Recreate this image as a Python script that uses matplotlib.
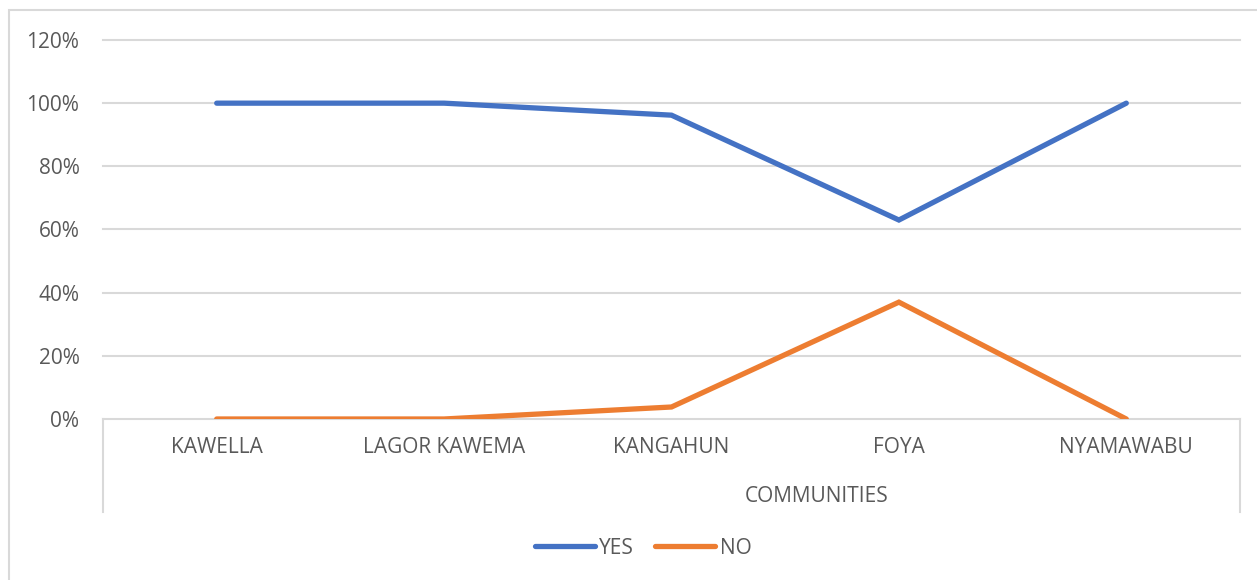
import matplotlib.pyplot as plt
from matplotlib.patches import Rectangle
from matplotlib.ticker import PercentFormatter

# data
communities = ['KAWELLA', 'LAGOR KAWEMA', 'KANGAHUN', 'FOYA', 'NYAMAWABU']
yes_share = [1.00, 1.00, 0.962, 0.63, 1.00]
no_share = [0.00, 0.00, 0.038, 0.37, 0.00]
y_ticks = [0, 0.2, 0.4, 0.6, 0.8, 1.0, 1.2]

W, H = 1257, 580
text_col = '#595959'
grid_col = '#D9D9D9'
fs = 15
plt.rcParams['font.family'] = ['Open Sans', 'DejaVu Sans']

fig = plt.figure(figsize=(W / 100, H / 100), dpi=100)

# chart area border (only left and top show in the picture)
fig.patches.append(Rectangle((9 / W, -0.1), 2, 1.1 - 10 / H, transform=fig.transFigure,
                             fill=False, edgecolor=grid_col, linewidth=1.5))

ax = fig.add_axes([103 / W, 1 - 419 / H, (1240 - 103) / W, (419 - 40) / H])
x = range(len(communities))
ax.plot(x, yes_share, color='#4472C4', linewidth=3.8, label='YES',
        solid_joinstyle='miter', solid_capstyle='round')
ax.plot(x, no_share, color='#ED7D31', linewidth=3.8, label='NO',
        solid_joinstyle='miter', solid_capstyle='round')

ax.set_xlim(-0.5, len(communities) - 0.5)
ax.set_ylim(0, 1.2)
ax.set_yticks(y_ticks)
ax.yaxis.set_major_formatter(PercentFormatter(1.0, decimals=0))
ax.set_xticks(list(x))
ax.set_xticklabels(communities)
ax.tick_params(axis='both', length=0, labelsize=fs, labelcolor=text_col)
ax.tick_params(axis='x', pad=13)
ax.tick_params(axis='y', pad=17)
for s in ax.spines.values():
    s.set_visible(False)
ax.grid(axis='y', color=grid_col, linewidth=1.5)
ax.set_axisbelow(True)
for gl in ax.yaxis.get_gridlines():
    gl.set_clip_on(False)

# category axis box below the plot
drop = -(512 - 419) / (419 - 40)
for xe in (0, 1):
    ax.plot([xe, xe], [0, drop], transform=ax.transAxes, color=grid_col,
            linewidth=1.5, clip_on=False)

fig.text(817 / W, 1 - 496 / H, 'COMMUNITIES', ha='center', va='center',
         fontsize=fs, color=text_col)

fig.legend(loc='center', bbox_to_anchor=(643 / W, 1 - 548 / H), ncol=2, frameon=False,
           fontsize=fs, labelcolor=text_col, handlelength=2.9, handletextpad=0.2,
           columnspacing=1.0)

fig.savefig('out.png', dpi=100)
